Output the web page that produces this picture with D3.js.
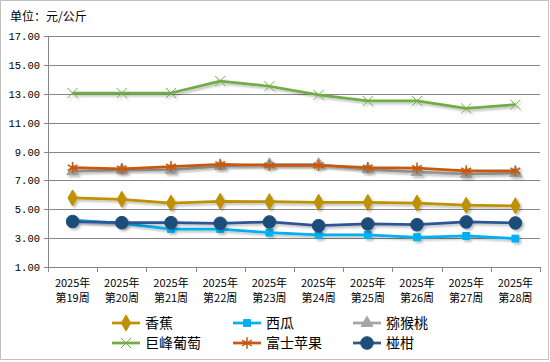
<!DOCTYPE html>
<html>
<head>
<meta charset="utf-8">
<script src="https://cdn.jsdelivr.net/npm/d3@7"></script>
<style>
  body { margin: 0; background: #fff; }
  svg { display: block; }
</style>
</head>
<body>
<div id="chart"></div>
<script>
const weeks = ['第19周', '第20周', '第21周', '第22周', '第23周', '第24周', '第25周', '第26周', '第27周', '第28周']
const yearLabel = '2025年'
const yTicks = [1, 3, 5, 7, 9, 11, 13, 15, 17]

const banana = [5.78, 5.69, 5.43, 5.55, 5.52, 5.48, 5.47, 5.43, 5.28, 5.24]
const watermelon = [4.25, 4.02, 3.63, 3.63, 3.38, 3.22, 3.22, 3.06, 3.15, 2.97]
const kiwi = [7.62, 7.72, 7.72, 7.98, 8.1, 8.1, 7.76, 7.57, 7.43, 7.5]
const grape = [13.05, 13.05, 13.05, 13.88, 13.52, 12.92, 12.5, 12.5, 11.98, 12.24]
const apple = [7.88, 7.8, 7.95, 8.1, 8.04, 8.04, 7.88, 7.84, 7.66, 7.66]
const mandarin = [4.15, 4.07, 4.07, 4.03, 4.12, 3.86, 3.98, 3.93, 4.12, 4.05]

const seriesNames = ['香蕉', '西瓜', '猕猴桃', '巨峰葡萄', '富士苹果', '椪柑']

const width = 550
const height = 362
const margin = { top: 36, right: 10, bottom: 95, left: 48 }

const series = [
  { name: seriesNames[0], values: banana, color: '#BF9000', symbol: d3.symbolDiamond, size: 75, fill: true },
  { name: seriesNames[1], values: watermelon, color: '#00B0F0', symbol: d3.symbolSquare, size: 48, fill: true },
  { name: seriesNames[2], values: kiwi, color: '#A5A5A5', symbol: d3.symbolTriangle, size: 60, fill: true },
  { name: seriesNames[3], values: grape, color: '#70AD47', symbol: d3.symbolTimes, size: 70, fill: false, sw: 1 },
  { name: seriesNames[4], values: apple, color: '#C55A11', symbol: d3.symbolAsterisk, size: 90, fill: false, sw: 1.5 },
  { name: seriesNames[5], values: mandarin, color: '#1F4E79', line: '#2F5597', symbol: d3.symbolCircle, size: 125, fill: true }
]

const svg = d3.select('#chart')
  .append('svg')
  .attr('width', width)
  .attr('height', height)

svg.append('rect')
  .attr('x', 0.5).attr('y', 0.5)
  .attr('width', width - 2).attr('height', height - 3)
  .attr('fill', '#fff')
  .attr('stroke', '#c0c0c0')

const defs = svg.append('defs')
const shadow = defs.append('filter').attr('id', 'shadow')
  .attr('x', '-10%').attr('y', '-10%').attr('width', '120%').attr('height', '140%')
shadow.append('feGaussianBlur').attr('in', 'SourceAlpha').attr('stdDeviation', 1.2).attr('result', 'b')
shadow.append('feOffset').attr('dx', 1.5).attr('dy', 1.5).attr('result', 'o')
shadow.append('feComponentTransfer').append('feFuncA').attr('type', 'linear').attr('slope', 0.25)
const merge = shadow.append('feMerge')
merge.append('feMergeNode')
merge.append('feMergeNode').attr('in', 'SourceGraphic')

// title
svg.append('text')
  .attr('x', 10).attr('y', 21)
  .attr('font-family', 'Noto Sans CJK SC')
  .attr('font-size', 12)
  .attr('fill', '#000')
  .text('单位：元/公斤')

const x = d3.scaleBand()
  .domain(weeks)
  .range([margin.left, width - margin.right])

const y = d3.scaleLinear()
  .domain([1, 17])
  .range([height - margin.bottom, margin.top])

// gridlines
svg.append('g')
  .selectAll('line')
  .data(yTicks)
  .enter()
  .append('line')
  .attr('x1', margin.left - 4)
  .attr('x2', width - margin.right)
  .attr('y1', d => Math.round(y(d)) + 0.5)
  .attr('y2', d => Math.round(y(d)) + 0.5)
  .attr('stroke', '#868686')
  .attr('stroke-width', 1)

// y labels
svg.append('g')
  .selectAll('text')
  .data(yTicks)
  .enter()
  .append('text')
  .attr('x', margin.left - 8)
  .attr('y', d => y(d) + 4)
  .attr('text-anchor', 'end')
  .attr('font-family', 'Liberation Mono')
  .attr('font-size', 10.5)
  .attr('fill', '#000')
  .text(d => d.toFixed(2))

// y axis line
svg.append('line')
  .attr('x1', margin.left + 0.5).attr('x2', margin.left + 0.5)
  .attr('y1', y(17)).attr('y2', y(1))
  .attr('stroke', '#868686')

// x axis ticks at band boundaries
const xBounds = weeks.map(w => x(w)).concat([x.range()[1]])
svg.append('g')
  .selectAll('line')
  .data(xBounds)
  .enter()
  .append('line')
  .attr('x1', d => Math.round(d) + 0.5)
  .attr('x2', d => Math.round(d) + 0.5)
  .attr('y1', y(1))
  .attr('y2', y(1) + 5)
  .attr('stroke', '#868686')

// x labels
const xl = svg.append('g')
  .selectAll('text')
  .data(weeks)
  .enter()
  .append('text')
  .attr('text-anchor', 'middle')
  .attr('font-family', 'Noto Sans CJK SC')
  .attr('font-size', 11)
  .attr('fill', '#000')
xl.append('tspan')
  .attr('x', d => x(d) + x.bandwidth() / 2)
  .attr('y', 287)
  .text(yearLabel)
xl.append('tspan')
  .attr('x', d => x(d) + x.bandwidth() / 2)
  .attr('y', 302)
  .text(d => d)

// lines
const line = d3.line()
  .x((d, i) => x(weeks[i]) + x.bandwidth() / 2)
  .y(d => y(d))

const plot = svg.append('g')

series.forEach(s => {
  const g = plot.append('g').attr('filter', 'url(#shadow)')
  g.append('path')
    .datum(s.values)
    .attr('d', line)
    .attr('fill', 'none')
    .attr('stroke', s.line || s.color)
    .attr('stroke-width', 2.75)
    .attr('stroke-linejoin', 'round')

  g.selectAll('path.m')
    .data(s.values)
    .enter()
    .append('path')
    .attr('class', 'm')
    .attr('transform', (d, i) => `translate(${x(weeks[i]) + x.bandwidth() / 2},${y(d)})`)
    .attr('d', d3.symbol().type(s.symbol).size(s.size))
    .attr('fill', s.fill ? s.color : 'none')
    .attr('stroke', s.color)
    .attr('stroke-width', s.sw || 1)
})

// legend
const legendCols = [112, 233, 353]
const legendRows = [323, 343]
const legend = svg.append('g')
  .selectAll('g')
  .data(series)
  .enter()
  .append('g')
  .attr('transform', (d, i) => `translate(${legendCols[i % 3]},${legendRows[Math.floor(i / 3)]})`)

legend.append('line')
  .attr('x1', 0).attr('x2', 28)
  .attr('stroke', d => d.line || d.color)
  .attr('stroke-width', 2.75)

legend.append('path')
  .attr('transform', 'translate(14,0)')
  .attr('d', d => d3.symbol().type(d.symbol).size(d.size)())
  .attr('fill', d => d.fill ? d.color : 'none')
  .attr('stroke', d => d.color)
  .attr('stroke-width', d => d.sw || 1)

legend.append('text')
  .attr('x', 33)
  .attr('y', 5)
  .attr('font-family', 'Noto Sans CJK SC')
  .attr('font-size', 14)
  .attr('fill', '#000')
  .text(d => d.name)
</script>
</body>
</html>
